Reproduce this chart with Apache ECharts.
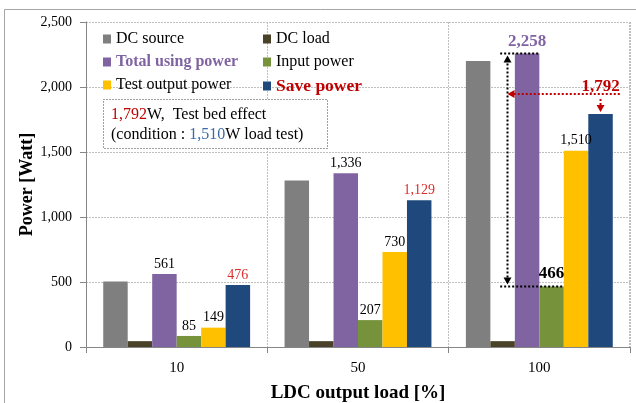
<!DOCTYPE html>
<html>
<head>
<meta charset="utf-8">
<script src="https://cdn.jsdelivr.net/npm/echarts@6/dist/echarts.min.js"></script>
<style>
  html, body { margin: 0; padding: 0; background: #ffffff; }
  #chart { width: 636px; height: 403px; }
</style>
</head>
<body>
<div id="chart"></div>
<script>
// LDC output load test: power breakdown per load level
const categories = ['10', '50', '100'];
const dcSource   = [503, 1280, 2200];
const dcLoad     = [45, 45, 45];
const totalUsing = [561, 1336, 2258];
const inputPower = [85, 207, 466];
const testOutput = [149, 730, 1510];
const savePower  = [476, 1129, 1792];
const yTicks     = [0, 500, 1000, 1500, 2000, 2500];

const FONT = "'Liberation Serif', 'Times New Roman', serif";
const fmt = v => v.toLocaleString('en-US');

const C = {
  dcSource: '#7f7f7f',
  dcLoad: '#4a4228',
  total: '#8064a2',
  input: '#76933c',
  test: '#ffc000',
  save: '#1f497d',
  red: '#c00000',
  lightRed: '#dd2c2c',
  blue: '#3c6aa6'
};
const BAR_GAP = 0.19;
const last = categories.length - 1;

// the last load level gets its own, emphasised label
function labeled(values, special) {
  return values.map((v, i) => (i === last && special) ? { value: v, label: special } : v);
}

const baseLabel = { show: true, position: 'top', distance: 3, color: '#000', fontFamily: FONT, fontSize: 14, formatter: p => fmt(p.value) };

const chart = echarts.init(document.getElementById('chart'));
const legendCommon = {
  top: 31, orient: 'vertical', padding: 0, itemGap: 7,
  itemWidth: 8, itemHeight: 9, icon: 'rect', selectedMode: false,
  textStyle: { fontFamily: FONT, fontSize: 16, color: '#000', lineHeight: 15 }
};
const option = {
  backgroundColor: '#ffffff',
  animation: false,
  grid: { left: 86, right: 6, top: 22, bottom: 56, containLabel: false, outerBoundsMode: 'none' },
  legend: [
    Object.assign({}, legendCommon, {
      left: 103,
      data: [
        { name: 'DC source' },
        { name: 'Total using power', textStyle: { color: C.total, fontWeight: 'bold' } },
        { name: 'Test output power' }
      ]
    }),
    Object.assign({}, legendCommon, {
      left: 263,
      data: [
        { name: 'DC load' },
        { name: 'Input power' },
        { name: 'Save power', textStyle: { color: C.red, fontWeight: 'bold', fontSize: 17.5 } }
      ]
    })
  ],
  xAxis: {
    type: 'category',
    data: categories,
    axisLine: { show: true, lineStyle: { color: '#868686', width: 1 } },
    axisTick: { show: true, length: 6, lineStyle: { color: '#868686' } },
    axisLabel: { color: '#000', fontFamily: FONT, fontSize: 15, margin: 14 },
    splitLine: { show: true, lineStyle: { color: '#bfbfbf', type: [2, 1], width: 1 } },
    name: 'LDC output load [%]',
    nameLocation: 'middle',
    nameGap: 37,
    nameMoveOverlap: false,
    nameTextStyle: { color: '#000', fontFamily: FONT, fontSize: 19, fontWeight: 'bold' }
  },
  yAxis: {
    type: 'value',
    min: yTicks[0],
    max: yTicks[yTicks.length - 1],
    interval: yTicks[1] - yTicks[0],
    axisLine: { show: true, lineStyle: { color: '#868686', width: 1 } },
    axisTick: { show: true, length: 6, lineStyle: { color: '#868686' } },
    axisLabel: { color: '#000', fontFamily: FONT, fontSize: 14, margin: 14, formatter: v => fmt(v) },
    splitLine: { show: true, lineStyle: { color: '#bfbfbf', type: [2, 1], width: 1 } },
    name: 'Power [Watt]',
    nameLocation: 'middle',
    nameGap: 50,
    nameMoveOverlap: false,
    nameTextStyle: { color: '#000', fontFamily: FONT, fontSize: 18, fontWeight: 'bold' }
  },
  series: [
    { name: 'DC source', type: 'bar', data: dcSource, itemStyle: { color: C.dcSource } },
    { name: 'DC load', type: 'bar', data: dcLoad, itemStyle: { color: C.dcLoad } },
    {
      name: 'Total using power', type: 'bar', itemStyle: { color: C.total },
      label: baseLabel,
      data: labeled(totalUsing, { color: C.total, fontWeight: 'bold', fontSize: 17, distance: 3 })
    },
    {
      name: 'Input power', type: 'bar', itemStyle: { color: C.input },
      label: baseLabel,
      data: labeled(inputPower, { fontWeight: 'bold', fontSize: 17, distance: 4 })
    },
    {
      name: 'Test output power', type: 'bar', itemStyle: { color: C.test },
      label: baseLabel,
      data: testOutput
    },
    {
      name: 'Save power', type: 'bar', itemStyle: { color: C.save },
      label: Object.assign({}, baseLabel, { color: C.lightRed }),
      data: labeled(savePower, { color: C.red, fontWeight: 'bold', fontSize: 17, distance: 19 })
    }
  ].map(s => Object.assign(s, { barGap: '0%', barCategoryGap: (BAR_GAP * 100) + '%' }))
};
chart.setOption(option);

// Annotation overlay: pixel positions are derived from the axes
const nSeries = option.series.length;
const c0 = chart.convertToPixel({ gridIndex: 0 }, [categories[0], 0]);
const c1 = chart.convertToPixel({ gridIndex: 0 }, [categories[1], 0]);
const band = c1[0] - c0[0];
const barW = band * (1 - BAR_GAP) / nSeries;
const cx = chart.convertToPixel({ gridIndex: 0 }, [categories[last], 0])[0];
const barCenter = i => cx - band * (1 - BAR_GAP) / 2 + barW * (i + 0.5);
const yOf = v => chart.convertToPixel({ gridIndex: 0 }, [categories[last], v])[1];
const y0 = yOf(yTicks[0]), yMax = yOf(yTicks[yTicks.length - 1]);

const Z = 50;
const dotted = (pts, color) => ({
  type: 'polyline', silent: true, z: Z,
  shape: { points: pts },
  style: { stroke: color, lineWidth: 2, lineDash: [2, 2], fill: null }
});
function arrow(x, y, dir, color) {
  const s = 4, l = 7;
  let pts;
  if (dir === 'up') pts = [[x, y], [x - s, y + l], [x + s, y + l]];
  else if (dir === 'down') pts = [[x, y], [x - s, y - l], [x + s, y - l]];
  else pts = [[x, y], [x + l, y - s], [x + l, y + s]];
  return { type: 'polygon', silent: true, z: Z, shape: { points: pts }, style: { fill: color } };
}

const topV = totalUsing[last], lowV = inputPower[last], saveV = savePower[last];
const yTop = yOf(topV), yLow = yOf(lowV), ySave = yOf(saveV);
const vx = barCenter(1) + barW * 0.2;
const hx0 = barCenter(1) - barW * 0.1;
const saveX = barCenter(5);
const yRed = ySave - 20;
const xRight = cx + band / 2 - 0.5;

const graphics = [
  // outer frame
  { type: 'polyline', silent: true, z: Z, shape: { points: [[4.5, 403], [4.5, 9.5], [636, 9.5]] },
    style: { stroke: '#a6a6a6', lineWidth: 1, fill: null } },
  // plot right border
  { type: 'line', silent: true, shape: { x1: xRight, y1: yMax, x2: xRight, y2: y0 },
    style: { stroke: '#bfbfbf', lineWidth: 1, lineDash: [2, 1] } },
  // difference span between total using power and input power
  dotted([[hx0, yTop], [barCenter(2) + barW / 2, yTop]], '#000'),
  dotted([[hx0, yLow], [barCenter(3) + barW / 2, yLow]], '#000'),
  dotted([[vx, yTop + 6], [vx, yLow - 6]], '#000'),
  arrow(vx, yTop + 2, 'up', '#000'),
  arrow(vx, yLow - 2, 'down', '#000'),
  // saved power pointer
  dotted([[saveX + barW / 2 + 7, yRed], [vx + 6, yRed]], C.red),
  arrow(vx, yRed, 'left', C.red),
  dotted([[saveX, yRed + 5], [saveX, ySave - 8]], C.red),
  arrow(saveX, ySave - 2, 'down', C.red),
  // test bed note
  { type: 'rect', silent: true, z: Z, shape: { x: 103.5, y: 99.5, width: 224, height: 49 },
    style: { stroke: '#404040', lineWidth: 1, lineDash: [1, 2], fill: '#fff' } },
  { type: 'text', silent: true, z: Z + 1, x: 111, y: 105,
    style: {
      text: '{r|' + fmt(saveV) + '}W,  Test bed effect\n(condition : {b|' + fmt(testOutput[last]) + '}W load test)',
      fontFamily: FONT, fontSize: 16, fill: '#000', lineHeight: 20,
      rich: { r: { fill: C.red, fontFamily: FONT, fontSize: 16 }, b: { fill: C.blue, fontFamily: FONT, fontSize: 16 } }
    } }
];
chart.setOption({ graphic: graphics });
</script>
</body>
</html>
